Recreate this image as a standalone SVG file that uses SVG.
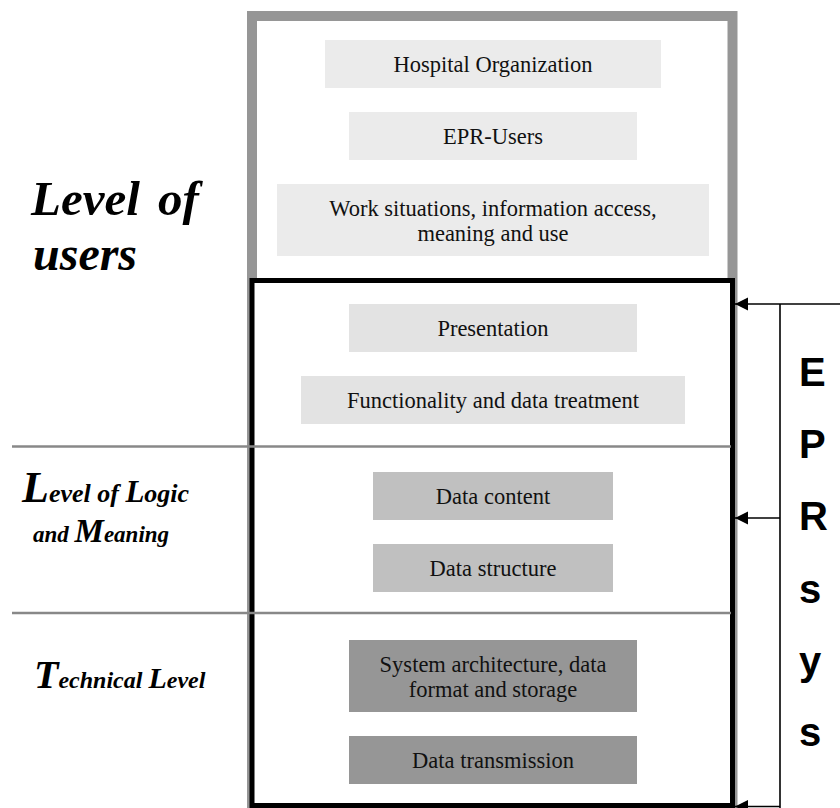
<svg xmlns="http://www.w3.org/2000/svg" width="840" height="808" viewBox="0 0 840 808">
<style>
.node text{font-family:"Liberation Serif","Times New Roman",serif;font-size:22.5px;fill:#111;text-anchor:middle}
.lvl{font-family:"Liberation Serif","Times New Roman",serif;font-weight:bold;font-style:italic;fill:#000}
.epr{font-family:"Liberation Sans",Arial,sans-serif;font-weight:bold;font-size:40px;fill:#000}
.c1{fill:#ebebeb}.c2{fill:#e3e3e3}.c3{fill:#c0c0c0}.c4{fill:#969696}
.conn line{stroke:#000;stroke-width:1.6}
.div{stroke:#888;stroke-width:2.5}
</style>
<defs>
<marker id="ah" markerUnits="userSpaceOnUse" markerWidth="14" markerHeight="14" refX="13" refY="6.5" orient="auto">
<path d="M0,0 L13,6.5 L0,13 z" fill="#000"/>
</marker>
</defs>
<rect width="840" height="808" fill="#fff"/>
<g id="users-frame"><rect x="252" y="16" width="480.5" height="800" fill="none" stroke="#969696" stroke-width="10"/></g>
<g id="epr-system-box"><rect x="252" y="280.5" width="480.5" height="525" fill="#fff" stroke="#000" stroke-width="5"/></g>
<line class="div" x1="12" y1="446.5" x2="731" y2="446.5"/>
<line class="div" x1="12" y1="613" x2="731" y2="613"/>

<g id="n-hospital" class="node"><rect class="c1" x="325" y="40" width="336" height="48"/><text x="493" y="71.5">Hospital Organization</text></g>
<g id="n-eprusers" class="node"><rect class="c1" x="349" y="112" width="288" height="48"/><text x="493" y="143.5">EPR-Users</text></g>
<g id="n-work" class="node"><rect class="c1" x="277" y="184" width="432" height="72"/><text x="493" y="215.5">Work situations, information access,</text><text x="493" y="240.5">meaning and use</text></g>
<g id="n-presentation" class="node"><rect class="c2" x="349" y="304" width="288" height="48"/><text x="493" y="335.5">Presentation</text></g>
<g id="n-functionality" class="node"><rect class="c2" x="301" y="376" width="384" height="48"/><text x="493" y="407.5">Functionality and data treatment</text></g>
<g id="n-datacontent" class="node"><rect class="c3" x="373" y="472" width="240" height="48"/><text x="493" y="503.5">Data content</text></g>
<g id="n-datastructure" class="node"><rect class="c3" x="373" y="544" width="240" height="48"/><text x="493" y="575.5">Data structure</text></g>
<g id="n-sysarch" class="node"><rect class="c4" x="349" y="640" width="288" height="72"/><text x="493" y="671.5">System architecture, data</text><text x="493" y="696.5">format and storage</text></g>
<g id="n-transmission" class="node"><rect class="c4" x="349" y="736" width="288" height="48"/><text x="493" y="767.5">Data transmission</text></g>

<g id="lbl-users"><text class="lvl" x="31" y="215" font-size="49" word-spacing="6">Level of</text><text class="lvl" x="33" y="270" font-size="48">users</text></g>
<g id="lbl-logic"><text class="lvl" x="22" y="502" font-size="26"><tspan font-size="44">L</tspan>evel of <tspan font-size="31">L</tspan>ogic</text><text class="lvl" x="33" y="542" font-size="23">and <tspan font-size="33">M</tspan>eaning</text></g>
<g id="lbl-tech"><text class="lvl" x="34" y="688" font-size="24"><tspan font-size="40">T</tspan>echnical <tspan font-size="30">L</tspan>evel</text></g>

<g id="epr-label"><text class="epr" x="799" y="386">E</text><text class="epr" x="799" y="458">P</text><text class="epr" x="799" y="530">R</text><text class="epr" x="799" y="603">s</text><text class="epr" x="799" y="675">y</text><text class="epr" x="799" y="746">s</text></g>

<g id="connectors" class="conn">
<line x1="840" y1="304" x2="780" y2="304"/>
<line x1="780" y1="304" x2="780" y2="808"/>
<line x1="780" y1="304" x2="735" y2="304" marker-end="url(#ah)"/>
<line x1="780" y1="518" x2="735" y2="518" marker-end="url(#ah)"/>
<line x1="780" y1="806.5" x2="735" y2="806.5" marker-end="url(#ah)"/>
</g>
</svg>
